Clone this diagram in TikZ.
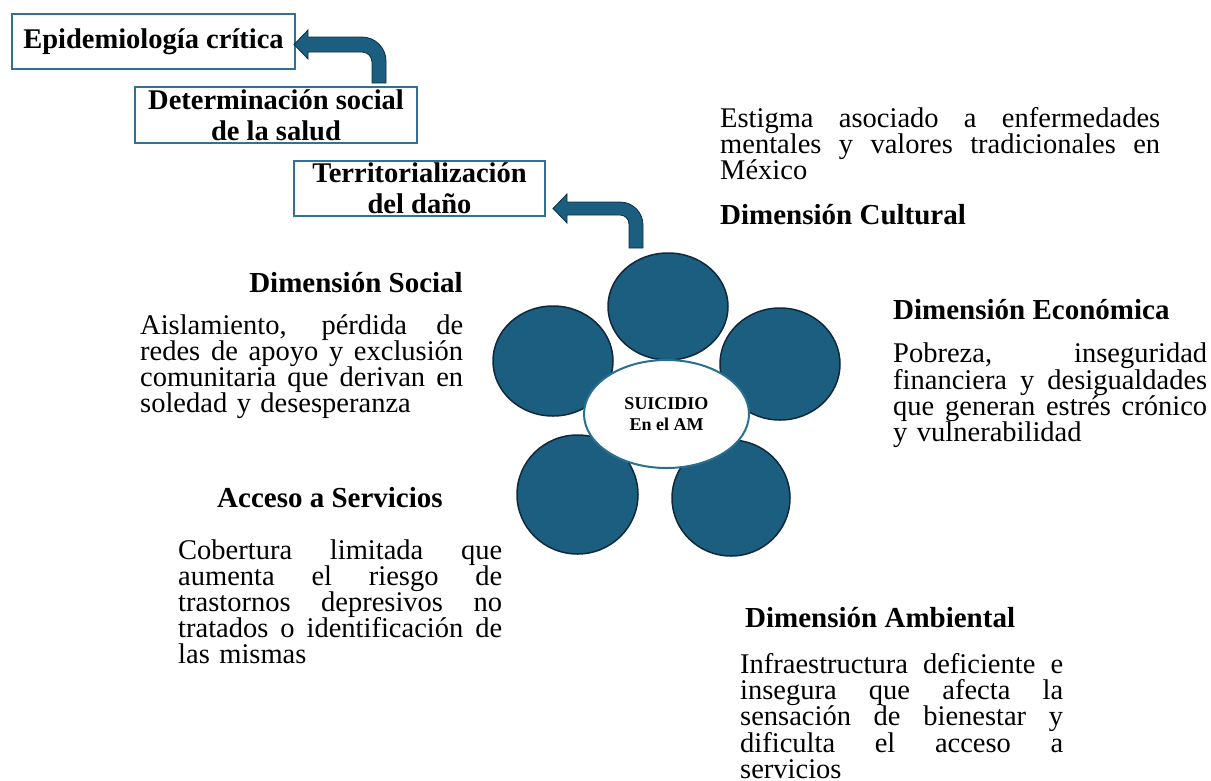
\documentclass[tikz,border=0pt]{standalone}
\usepackage{fontspec}
\setmainfont{Liberation Serif}
\usetikzlibrary{shapes.geometric}
\newcommand{\jl}[1]{\makebox[\hsize][s]{\spaceskip=0pt\xspaceskip=0pt\relax #1}}
\definecolor{petalfill}{HTML}{1B5E80}
\definecolor{petaledge}{HTML}{10293A}
\definecolor{boxedge}{HTML}{2E7396}
\definecolor{ringedge}{HTML}{2A6F90}
\definecolor{arrowedge}{HTML}{0E2F40}
\begin{document}
\begin{tikzpicture}[x=1pt,y=-1pt,
  bodytext/.style={anchor=base west, inner sep=0pt, align=left, font=\fontsize{28.5}{26.2}\selectfont},
  headtext/.style={anchor=base west, inner sep=0pt, font=\bfseries\fontsize{29}{30}\selectfont},
  conceptbox/.style={draw=boxedge, line width=1.6pt, inner sep=0pt, align=center,
     font=\bfseries\fontsize{28.5}{31}\selectfont},
  petal/.style={ellipse, draw=petaledge, fill=petalfill, line width=1.5pt, inner sep=0pt},
  blockarrow/.style={fill=petalfill, draw=arrowedge, line width=0.8pt, line join=miter}]
\useasboundingbox (0,0) rectangle (1211,780);

% concept boxes
\node[conceptbox, minimum width=283, minimum height=55] (epi) at (153.5,41.5) {Epidemiología crítica};
\node[conceptbox, minimum width=282, minimum height=56] (det) at (276,115) {Determinación social\\de la salud};
\node[conceptbox, minimum width=251, minimum height=55] (terr) at (419.5,188.5) {Territorialización\\del daño};

% bent arrows
\filldraw[blockarrow] (386,83) -- (386,61) .. controls (386,47.8) and (375.2,37) .. (362,37)
  -- (308,37) -- (308,30) -- (294,44.5) -- (308,59) -- (308,52) -- (362,52)
  .. controls (367.5,52) and (372,56.5) .. (372,62) -- (372,83) -- cycle;
\filldraw[blockarrow] (643,248) -- (643,225) .. controls (643,212.3) and (632.7,202) .. (620,202)
  -- (567,202) -- (567,194) -- (553,208.5) -- (567,223) -- (567,215) -- (620,215)
  .. controls (625,215) and (629,219) .. (629,224) -- (629,248) -- cycle;

% flower
\node[petal, minimum width=120, minimum height=110] (pleft) at (553,361) {};
\node[petal, minimum width=121, minimum height=119] (pbl) at (577.5,494.5) {};
\node[petal, minimum width=118, minimum height=116] (pbr) at (731,498) {};
\node[petal, minimum width=120, minimum height=112] (pright) at (780,364) {};
\node[petal, minimum width=120, minimum height=107] (ptop) at (668,306.5) {};
\node[ellipse, draw=ringedge, fill=white, line width=2pt, inner sep=0pt,
      minimum width=165, minimum height=108, align=center,
      font=\bfseries\fontsize{18}{21}\selectfont] (core) at (666.5,414) {SUICIDIO\\En el AM};

% Cultural
\node[bodytext, text width=440] (cultxt) at (720,127)
  {\jl{Estigma asociado a enfermedades}\\\jl{mentales y valores tradicionales en}\\México};
\node[headtext] (culhead) at (720,224) {Dimensión Cultural};

% Social
\node[headtext, anchor=base east] (sochead) at (463,292) {Dimensión Social};
\node[bodytext, text width=323] (soctxt) at (140,334)
  {\jl{Aislamiento, pérdida de}\\\jl{redes de apoyo y exclusión}\\\jl{comunitaria que derivan en}\\soledad y desesperanza};

% Economica
\node[headtext] (ecohead) at (893,319) {Dimensión Económica};
\node[bodytext, text width=314] (ecotxt) at (893,362)
  {\jl{Pobreza, inseguridad}\\\jl{financiera y desigualdades}\\\jl{que generan estrés crónico}\\y vulnerabilidad};

% Acceso
\node[headtext] (acchead) at (217,507) {Acceso a Servicios};
\node[bodytext, text width=324] (acctxt) at (178,559)
  {\jl{Cobertura limitada que}\\\jl{aumenta el riesgo de}\\\jl{trastornos depresivos no}\\\jl{tratados o identificación de}\\las mismas};

% Ambiental
\node[headtext] (ambhead) at (745,627) {Dimensión Ambiental};
\node[bodytext, text width=323] (ambtxt) at (740,673)
  {\jl{Infraestructura deficiente e}\\\jl{insegura que afecta la}\\\jl{sensación de bienestar y}\\\jl{dificulta el acceso a}\\servicios};
\end{tikzpicture}
\end{document}
